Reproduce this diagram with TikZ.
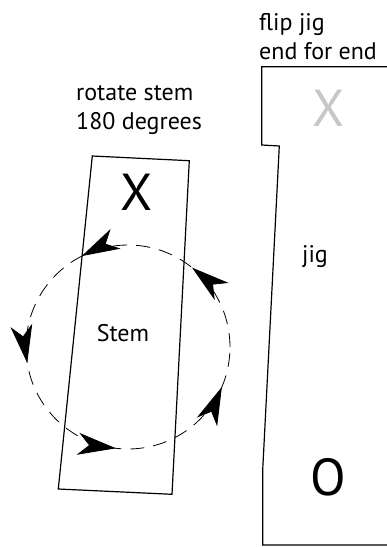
\documentclass[tikz,border=0pt]{standalone}
\usepackage{fontspec}
\setmainfont{PT Sans}
\usetikzlibrary{arrows.meta,decorations.markings}

\begin{document}
\begin{tikzpicture}[x=1pt,y=1pt,
    every node/.style={font=\fontsize{24}{29}\selectfont,inner sep=0pt},
    big/.style={font=\fontsize{52}{60}\selectfont},
    part/.style={line width=1.2pt,line join=miter},
    turn/.style={line width=0.8pt,dash pattern=on 14pt off 9pt,
      postaction={decorate},
      decoration={markings,
        mark=at position 0.142 with {\arrow{Stealth[length=38pt,width=22pt,inset=11pt]}},
        mark=at position 0.325 with {\arrow{Stealth[length=38pt,width=22pt,inset=11pt]}},
        mark=at position 0.525 with {\arrow{Stealth[length=38pt,width=22pt,inset=11pt]}},
        mark=at position 0.731 with {\arrow{Stealth[length=38pt,width=22pt,inset=11pt]}},
        mark=at position 0.936 with {\arrow{Stealth[length=38pt,width=22pt,inset=11pt]}}}}]
  \useasboundingbox (0,0) rectangle (387,-547);
%  \draw[help lines,step=50] (0,-547) grid (387,0);
    \path (76,-129) node(rotnote) [anchor=base west,align=left] {rotate stem\\180 degrees}
    (259,-59) node(flipnote) [anchor=base west,align=left] {flip jig\\end for end};
    % the stem
    \draw[part] (92.3,-156) -- (189.3,-160.7) -- (172,-494.3) -- (58.3,-489) -- cycle;
    \path (137,-192) node(stemx) [big] {X}
    (123,-333) node(stemlabel) [ ] {Stem};
    \coordinate (spin) at (128,-347);
    \draw[turn] (spin) circle (102);
    % the jig
    \draw[part] (387,-66.7) -- (261.7,-66.7) -- (261.7,-145) -- (279.3,-146)
      -- (262.7,-470) -- (262.7,-545) -- (387,-545);
    \path (329,-108) node(jigx) [big,text=black!22] {X}
    (315,-257) node(jiglabel) [ ] {jig}
    (328,-477) node(jigo) [big] {O};
  \end{tikzpicture}
\end{document}
